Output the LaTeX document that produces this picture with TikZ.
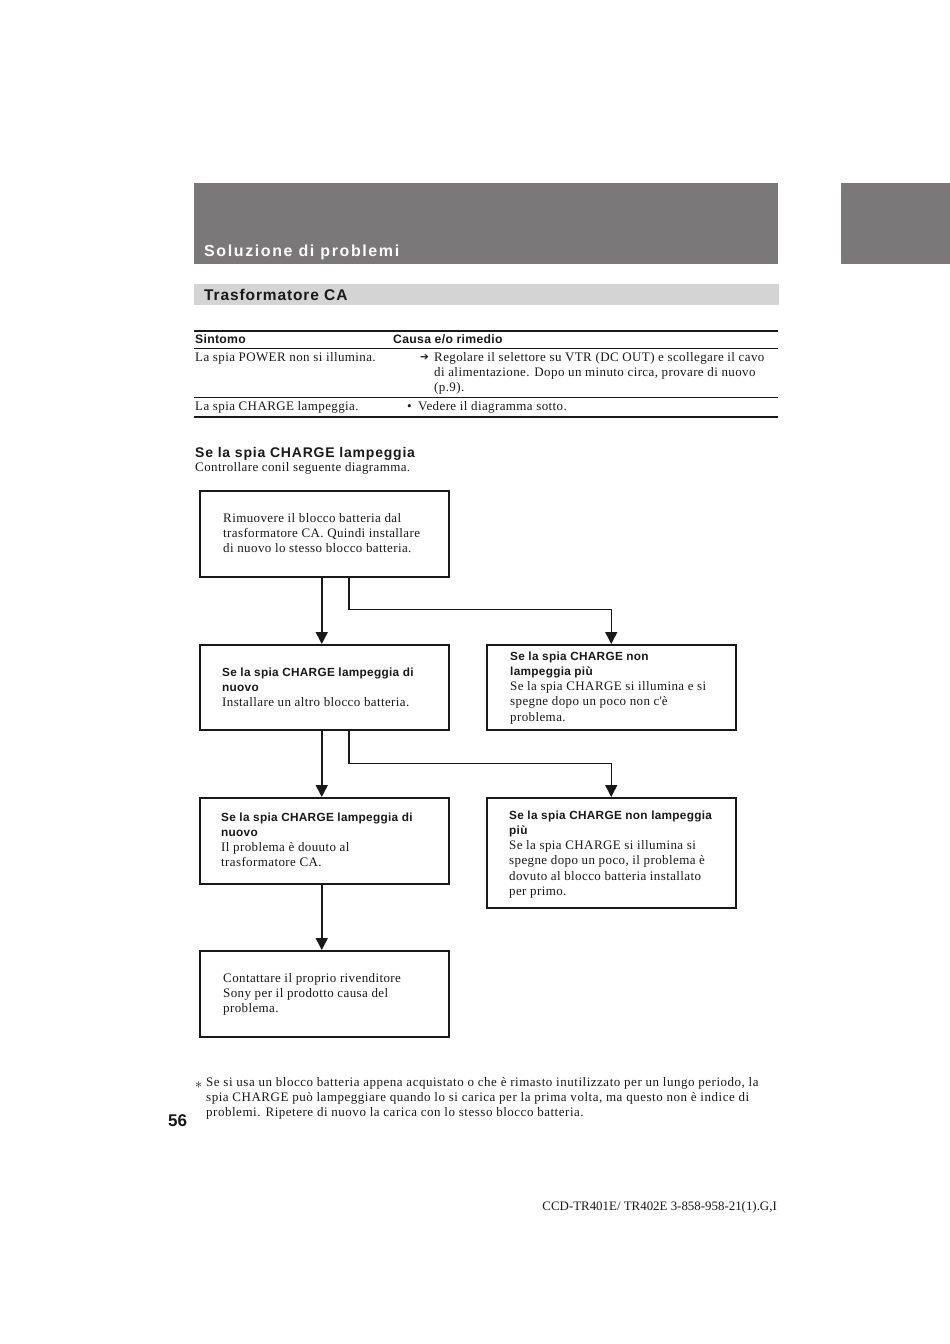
\documentclass[tikz,border=0pt]{standalone}
\usepackage{fontspec}
\setmainfont{Liberation Serif}[LetterSpace=3]
\newfontfamily\plainserif{Liberation Serif}
\newfontfamily\titlesans{Liberation Sans}[LetterSpace=10]
\newfontfamily\headsans{Liberation Sans}[LetterSpace=5.7]
\newfontfamily\boxsans{Liberation Sans}[LetterSpace=2.5]
\newfontfamily\plainsans{Liberation Sans}
\newfontfamily\dejavu{DejaVu Sans}
\usetikzlibrary{arrows.meta}
\definecolor{bandgray}{RGB}{122,120,120}
\definecolor{bargray}{RGB}{212,212,212}
\definecolor{inkblack}{RGB}{25,25,25}
\newcommand{\bodyfont}{\fontsize{13}{15.3}\selectfont}
\newcommand{\bsans}{\boxsans\bfseries\fontsize{11.8}{15.3}\selectfont}
\begin{document}
\begin{tikzpicture}[x=1pt,y=-1pt,
  every node/.style={inner sep=0pt, text=inkblack},
  box/.style={draw=inkblack, line width=1.5pt, minimum width=249pt, anchor=north west, inner sep=0pt},
  txt/.style={anchor=base west, align=left, font=\bodyfont},
  arr/.style={draw=inkblack, line width=1.5pt, -{Triangle[length=12pt,width=12pt]}},
  rulea/.style={draw=inkblack, line width=1.8pt},
  ruleb/.style={draw=inkblack, line width=0.9pt}]
\useasboundingbox (0,0) rectangle (950,1344);
\fill[white] (0,0) rectangle (950,1344);
% banners
\fill[bandgray] (194,183) rectangle (778,264);
\fill[bandgray] (841,183) rectangle (950,264);
\node[anchor=base west, text=white, font=\titlesans\bfseries\fontsize{16}{18}\selectfont] (title) at (204,256) {Soluzione di problemi};
\fill[bargray] (194,284) rectangle (779,305);
\node[anchor=base west, font=\headsans\bfseries\fontsize{15.5}{18}\selectfont] (sub) at (204,300) {Trasformatore CA};
% table
\draw[rulea] (194,331) -- (778,331);
\node[anchor=base west, font=\boxsans\bfseries\fontsize{12.2}{15}\selectfont] (h1) at (195,343) {Sintomo};
\node[anchor=base west, font=\boxsans\bfseries\fontsize{12.2}{15}\selectfont] (h2) at (393,343) {Causa e/o rimedio};
\draw[ruleb] (194,348) -- (778,348);
\node[txt] (s1) at (195,361) {La spia POWER non si illumina.};
\node[anchor=base west, font=\dejavu\fontsize{10.5}{12}\selectfont] (ar) at (420,360.5) {➔};
\node[txt] (r1) at (434,391.6) {Regolare il selettore su VTR (DC OUT) e scollegare il cavo\\di alimentazione. Dopo un minuto circa, provare di nuovo\\(p.9).};
\draw[ruleb] (194,397) -- (778,397);
\node[txt] (s2) at (195,410) {La spia CHARGE lampeggia.};
\node[txt] (bu) at (407,410) {•};
\node[txt] (r2) at (418,410) {Vedere il diagramma sotto.};
\draw[draw=inkblack, line width=1.4pt] (194,417) -- (778,417);
% section heading
\node[anchor=base west, font=\headsans\bfseries\fontsize{14}{16}\selectfont] (sec) at (195,457) {Se la spia CHARGE lampeggia};
\node[txt] (intro) at (195,471) {Controllare conil seguente diagramma.};
% boxes
\node[box, minimum height=86pt] (a) at (199,490) {};
\node[box, minimum height=85pt] (b) at (199,644) {};
\node[box, minimum height=85pt] (c) at (486,644) {};
\node[box, minimum height=86pt] (d) at (199,797) {};
\node[box, minimum height=110pt] (e) at (486,797) {};
\node[box, minimum height=86pt] (f) at (199,950) {};
% box texts (anchored at the baseline of the last line)
\node[txt] (ta) at (223,552.6) {Rimuovere il blocco batteria dal\\trasformatore CA. Quindi installare\\di nuovo lo stesso blocco batteria.};
\node[txt] (tb) at (222,706.6) {{\bsans Se la spia CHARGE lampeggia di}\\{\bsans nuovo}\\Installare un altro blocco batteria.};
\node[txt] (tc) at (510,721.2) {{\bsans Se la spia CHARGE non}\\{\bsans lampeggia più}\\Se la spia CHARGE si illumina e si\\spegne dopo un poco non c\textquotesingle è\\problema.};
\node[txt] (td) at (221,866.9) {{\bsans Se la spia CHARGE lampeggia di}\\{\bsans nuovo}\\Il problema è douuto al\\trasformatore CA.};
\node[txt] (te) at (509,895.5) {{\bsans Se la spia CHARGE non lampeggia}\\{\bsans più}\\Se la spia CHARGE si illumina si\\spegne dopo un poco, il problema è\\dovuto al blocco batteria installato\\per primo.};
\node[txt] (tf) at (223,1012.6) {Contattare il proprio rivenditore\\Sony per il prodotto causa del\\problema.};
% connectors
\draw[arr] ([xshift=-2.5pt]a.south) -- ([xshift=-2.5pt]b.north);
\draw[arr] ([xshift=24.5pt]a.south) -- ++(0,32) -| (c.north);
\draw[arr] ([xshift=-2.5pt]b.south) -- ([xshift=-2.5pt]d.north);
\draw[arr] ([xshift=24.5pt]b.south) -- ++(0,33) -| (e.north);
\draw[arr] ([xshift=-2.5pt]d.south) -- ([xshift=-2.5pt]f.north);
% footnote
\node[anchor=base west, font=\fontsize{14}{16}\selectfont] (ast) at (195,1088) {$\ast$};
\node[txt, font=\addfontfeatures{LetterSpace=4}\fontsize{13}{15.3}\selectfont] (fn) at (206,1116.6) {Se si usa un blocco batteria appena acquistato o che è rimasto inutilizzato per un lungo periodo, la\\spia CHARGE può lampeggiare quando lo si carica per la prima volta, ma questo non è indice di\\problemi. Ripetere di nuovo la carica con lo stesso blocco batteria.};
\node[anchor=base west, font=\plainsans\bfseries\fontsize{17}{20}\selectfont] (pg) at (168,1126) {56};
\node[anchor=base east, font=\plainserif\fontsize{12.9}{15}\selectfont] (code) at (777,1210) {CCD-TR401E/ TR402E 3-858-958-21(1).G,I};
\end{tikzpicture}
\end{document}
